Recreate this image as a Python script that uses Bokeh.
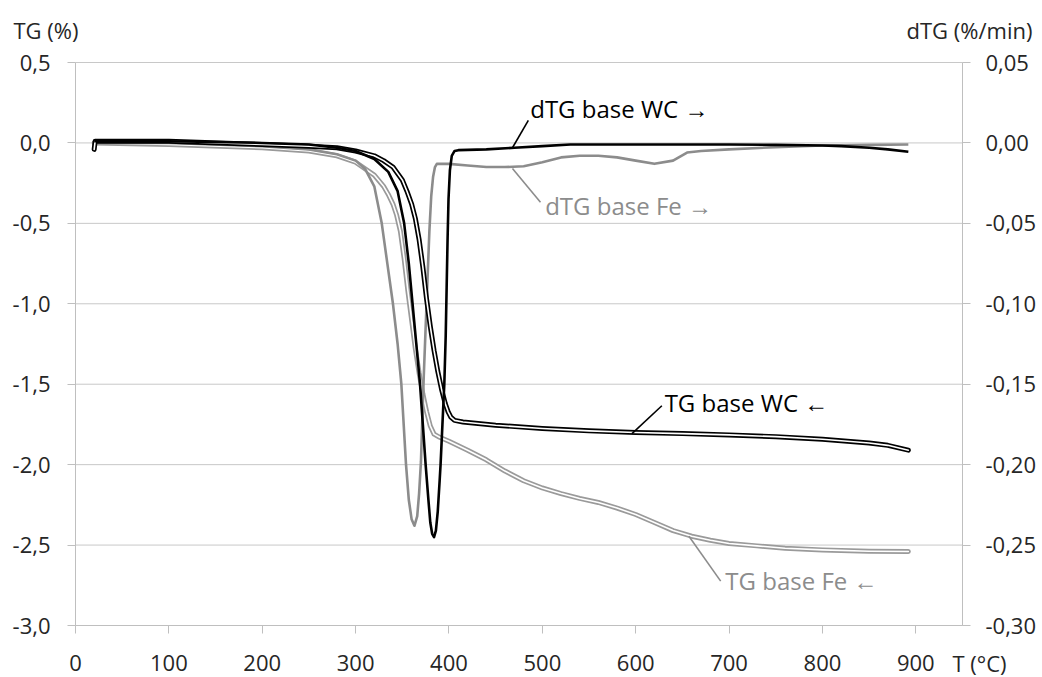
from bokeh.plotting import figure
from bokeh.models import Range1d, LinearAxis, FixedTicker, Label
from bokeh.embed import file_html
from bokeh.resources import INLINE

# ---------------- data ----------------
tg_wc_T = [20, 21, 100, 200, 250, 280, 300, 320, 330, 340, 345, 350, 355, 360, 364, 368,
           372, 376, 380, 384, 388, 392, 396, 399, 402, 406, 415, 450, 500, 550, 600, 650,
           700, 750, 800, 850, 870, 892]
tg_wc = [-0.04, 0.01, 0.01, -0.01, -0.02, -0.03, -0.05, -0.08, -0.11, -0.15, -0.19, -0.23,
         -0.30, -0.38, -0.47, -0.60, -0.77, -0.97, -1.14, -1.29, -1.42, -1.53, -1.62, -1.67,
         -1.705, -1.725, -1.735, -1.755, -1.775, -1.79, -1.80, -1.807, -1.815, -1.826, -1.842,
         -1.865, -1.88, -1.91]

tg_fe_T = [20, 100, 200, 250, 280, 300, 320, 330, 335, 340, 344, 348, 352, 356, 360, 364,
           368, 372, 376, 380, 384, 390, 400, 420, 440, 460, 480, 500, 520, 540, 560, 580,
           600, 620, 640, 660, 680, 700, 730, 760, 800, 850, 892]
tg_fe = [0.0, -0.01, -0.03, -0.05, -0.08, -0.12, -0.20, -0.27, -0.32, -0.38, -0.45, -0.55,
         -0.72, -0.92, -1.10, -1.28, -1.43, -1.56, -1.67, -1.76, -1.81, -1.83, -1.855, -1.91,
         -1.97, -2.04, -2.10, -2.145, -2.18, -2.21, -2.235, -2.27, -2.31, -2.36, -2.41, -2.445,
         -2.47, -2.49, -2.505, -2.52, -2.53, -2.538, -2.54]

dtg_wc_T = [20, 100, 200, 250, 280, 300, 320, 335, 345, 352, 357, 361, 365, 369, 372, 375,
            378, 380, 382, 384, 386, 388, 390, 391, 393, 395, 396.5, 397.5, 398.5, 399.5, 401,
            403, 406, 410, 440, 470, 500, 530, 560, 600, 650, 700, 750, 800, 820, 850, 870, 892]
dtg_wc = [0.001, 0.001, 0.0, -0.001, -0.003, -0.005, -0.010, -0.018, -0.030, -0.050, -0.075,
          -0.100, -0.125, -0.150, -0.175, -0.200, -0.222, -0.236, -0.243, -0.245, -0.241,
          -0.229, -0.210, -0.200, -0.175, -0.150, -0.120, -0.090, -0.060, -0.035, -0.017,
          -0.008, -0.005, -0.0045, -0.004, -0.003, -0.002, -0.001, -0.001, -0.001, -0.001,
          -0.001, -0.0012, -0.0016, -0.002, -0.003, -0.004, -0.0055]

dtg_fe_T = [20, 100, 200, 250, 280, 300, 310, 320, 328, 334, 340, 345, 349, 354, 357, 360,
            363, 366, 368, 370, 371.5, 373, 375, 377, 379, 381, 383, 385, 387, 390, 400, 420,
            440, 460, 480, 500, 520, 540, 560, 580, 600, 620, 640, 655, 670, 700, 750, 800,
            850, 892]
dtg_fe = [0.0, 0.0, -0.002, -0.004, -0.007, -0.011, -0.016, -0.027, -0.050, -0.075, -0.100,
          -0.125, -0.150, -0.200, -0.222, -0.234, -0.238, -0.232, -0.218, -0.198, -0.170,
          -0.145, -0.115, -0.085, -0.055, -0.033, -0.021, -0.015, -0.013, -0.013, -0.013,
          -0.014, -0.015, -0.015, -0.0145, -0.012, -0.009, -0.008, -0.008, -0.009, -0.011,
          -0.013, -0.011, -0.006, -0.005, -0.004, -0.0026, -0.0016, -0.0012, -0.001]

x_ticks = [0, 100, 200, 300, 400, 500, 600, 700, 800, 900]
tg_ticks = [-3.0, -2.5, -2.0, -1.5, -1.0, -0.5, 0.0, 0.5]
tg_tick_labels = ["-3,0", "-2,5", "-2,0", "-1,5", "-1,0", "-0,5", "0,0", "0,5"]
dtg_ticks = [-0.30, -0.25, -0.20, -0.15, -0.10, -0.05, 0.0, 0.05]
dtg_tick_labels = ["-0,30", "-0,25", "-0,20", "-0,15", "-0,10", "-0,05", "0,00", "0,05"]

# annotation texts and leader lines (x in degC, y in TG % units)
ann_text = ["dTG base WC \u2192", "dTG base Fe \u2192", "TG base WC \u2190", "TG base Fe \u2190"]
ann_x = [487, 503, 631, 696]
ann_y = [0.215, -0.389, -1.616, -2.718]
ann_color = ["#000000", "#8c8c8c", "#000000", "#8c8c8c"]
lead_x0 = [468, 468, 596, 657]
lead_y0 = [-0.03, -0.159, -1.807, -2.445]
lead_x1 = [485, 498, 628, 691]
lead_y1 = [0.14, -0.369, -1.634, -2.724]

# ---------------- layout ----------------
W, H = 1042, 677
PX_L, PX_R, PX_T, PX_B = 75, 962, 62, 625      # plot-area box in pixels
X0, X1, Y0, Y1 = 0, 950, -3.0, 0.5
sx = (PX_R - PX_L) / (X1 - X0)
sy = (PX_B - PX_T) / (Y1 - Y0)
x_start = X0 - PX_L / sx
x_end = X1 + (W - PX_R) / sx
y_end = Y1 + PX_T / sy
y_start = Y0 - (H - PX_B) / sy

FONT = "Open Sans"
TXT = "#262626"
AX = "#bfbfbf"

p = figure(width=W, height=H, x_range=Range1d(x_start, x_end),
           y_range=Range1d(y_start, y_end),
           output_backend="svg", toolbar_location=None,
           x_axis_location=None, y_axis_location=None,
           min_border=0, min_border_left=0, min_border_right=0,
           min_border_top=0, min_border_bottom=0)
p.extra_y_ranges = {"dtg": Range1d(y_start / 10, y_end / 10)}
p.outline_line_color = None
p.background_fill_color = "white"
p.border_fill_color = "white"
p.xgrid.visible = False
p.ygrid.visible = False

xa = LinearAxis(fixed_location=Y0, bounds=(X0, X1), ticker=FixedTicker(ticks=x_ticks))
ya = LinearAxis(fixed_location=X0, bounds=(Y0, Y1), ticker=FixedTicker(ticks=tg_ticks))
ya.major_label_overrides = dict(zip(tg_ticks, tg_tick_labels))
yr = LinearAxis(y_range_name="dtg", fixed_location=X1, bounds=(-0.30, 0.05),
                ticker=FixedTicker(ticks=dtg_ticks))
yr.major_label_overrides = dict(zip(dtg_ticks, dtg_tick_labels))

for ax in [xa, ya, yr]:
    ax.axis_line_color = AX
    ax.major_tick_line_color = AX
    ax.major_tick_in = 0
    ax.major_tick_out = 8
    ax.minor_tick_line_color = None
    ax.major_label_text_font = FONT
    ax.major_label_text_font_size = "22px"
    ax.major_label_text_color = TXT
xa.major_label_standoff = 21
ya.major_label_standoff = 17
yr.major_label_standoff = 15

# horizontal grid lines (at the left-axis ticks, spanning the plot area)
p.segment(x0=X0, x1=X1, y0=tg_ticks, y1=tg_ticks, line_color="#c8c8c8", line_width=1)

p.add_layout(xa, "below")
p.add_layout(ya, "left")
p.add_layout(yr, "right")

# curves
p.line(tg_fe_T, tg_fe, line_color="#9a9a9a", line_width=5, line_cap="round", line_join="round")
p.line(tg_fe_T, tg_fe, line_color="white", line_width=1.6, line_cap="round", line_join="round")
p.line(dtg_fe_T, dtg_fe, y_range_name="dtg", line_color="#8c8c8c", line_width=2.6,
       line_join="round")
p.line(tg_wc_T, tg_wc, line_color="black", line_width=5, line_cap="round", line_join="round")
p.line(tg_wc_T, tg_wc, line_color="white", line_width=1.6, line_cap="round", line_join="round")
p.line(dtg_wc_T, dtg_wc, y_range_name="dtg", line_color="black", line_width=2.6,
       line_join="round")

# leaders + annotation labels
p.segment(x0=lead_x0, y0=lead_y0, x1=lead_x1, y1=lead_y1, line_color=ann_color, line_width=1.6)
for t, x, y, c in zip(ann_text, ann_x, ann_y, ann_color):
    p.add_layout(Label(x=x, y=y, text=t, text_color=c, text_font=FONT,
                       text_font_size="24px", text_baseline="middle", text_align="left"))

# axis titles
p.add_layout(Label(x=-66.4, y=0.699, text="TG (%)", text_color=TXT, text_font=FONT,
                   text_font_size="22px", text_baseline="middle", text_align="left"))
p.add_layout(Label(x=1024.9, y=0.699, text="dTG (%/min)", text_color=TXT, text_font=FONT,
                   text_font_size="22px", text_baseline="middle", text_align="right"))
p.add_layout(Label(x=939.3, y=-3.236, text="T (\u00b0C)", text_color=TXT, text_font=FONT,
                   text_font_size="22px", text_baseline="middle", text_align="left"))

open("out.html", "w").write(file_html(p, INLINE))
